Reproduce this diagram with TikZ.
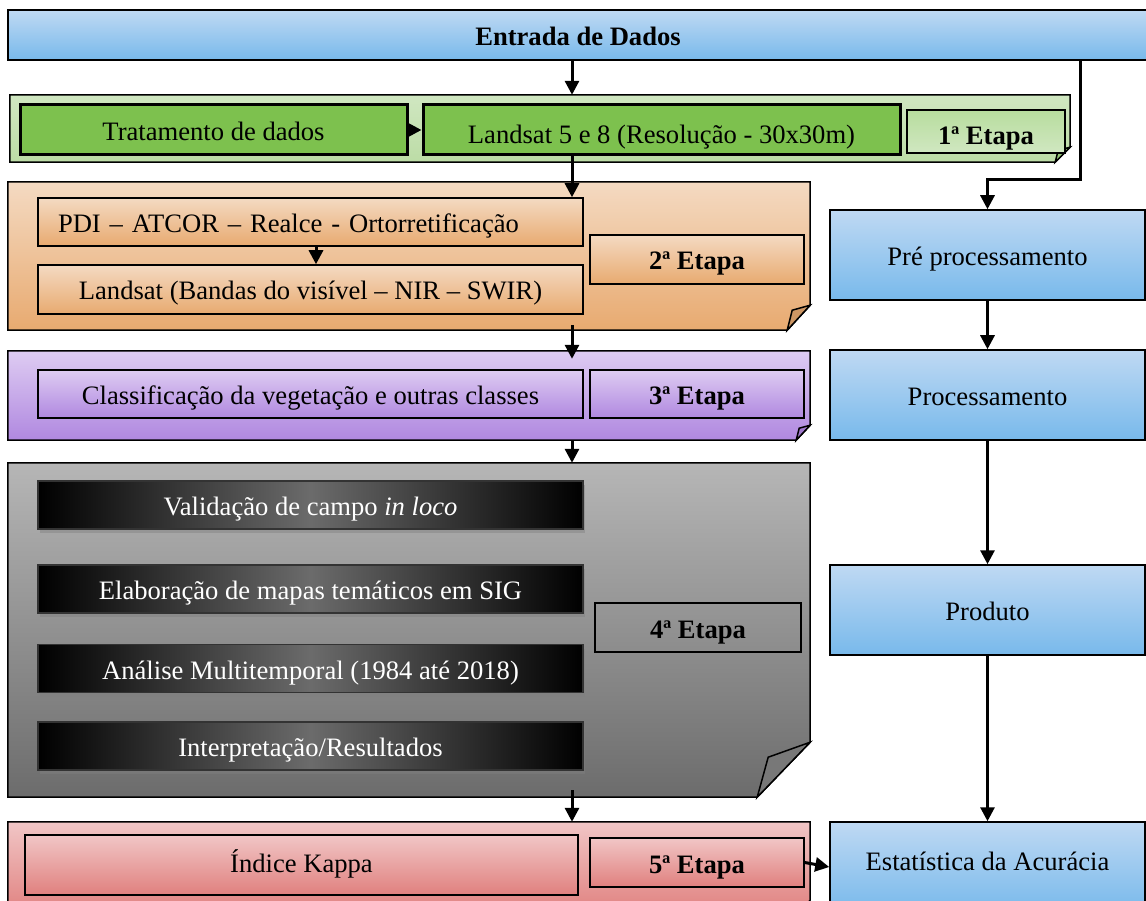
\documentclass[tikz,border=0pt]{standalone}
\usepackage{fontspec}
\setmainfont{Liberation Serif}
\usetikzlibrary{arrows.meta,shadows,calc}

\definecolor{bluTop}{RGB}{191,217,243}
\definecolor{bluBot}{RGB}{120,185,235}
\definecolor{grnTop}{RGB}{208,231,193}
\definecolor{grnBot}{RGB}{188,220,166}
\definecolor{grnBox}{RGB}{125,193,78}
\definecolor{grnFold}{RGB}{150,200,120}
\definecolor{orgTop}{RGB}{244,218,194}
\definecolor{orgBot}{RGB}{232,170,112}
\definecolor{orgFold}{RGB}{205,150,100}
\definecolor{purTop}{RGB}{222,204,242}
\definecolor{purBot}{RGB}{176,136,224}
\definecolor{purFold}{RGB}{160,120,205}
\definecolor{gryTop}{RGB}{182,182,182}
\definecolor{gryBot}{RGB}{108,108,108}
\definecolor{gryFold}{RGB}{120,120,120}
\definecolor{pnkTop}{RGB}{241,198,198}
\definecolor{pnkBot}{RGB}{224,128,126}

\begin{document}
\begin{tikzpicture}[x=1pt,y=-1pt,
  txt/.style={font=\fontsize{26.6}{30}\selectfont, text height=21pt, text depth=0pt},
  box/.style={txt, rectangle, draw=black, line width=1.5pt, inner sep=0pt, minimum height=48pt},
  bluebox/.style={box, top color=bluTop, bottom color=bluBot, minimum width=315pt, minimum height=90pt},
  greenbox/.style={box, line width=3pt, fill=grnBox, minimum height=50pt},
  darkbox/.style={box, draw=black!80, text=white, left color=black, right color=black, middle color=black!58,
    minimum width=545pt, drop shadow={opacity=0.45, shadow xshift=2pt, shadow yshift=-4pt}},
  stagebox/.style={box, font=\fontsize{26.6}{30}\selectfont\bfseries, minimum width=214pt, minimum height=49pt},
  panel/.style={rectangle, draw=none, fill=none, inner sep=0pt},
  stage/.style={draw=black, line width=1.5pt, line join=miter},
  arr/.style={line width=3pt, -{Triangle[length=14pt,width=14pt]}}]
\clip (0,0) rectangle (1146,901);

%Shape: Rectangle [Entrada de Dados]
\node[bluebox, minimum width=1140pt, minimum height=50pt, font=\fontsize{26.6}{30}\selectfont\bfseries] (entrada) at (578,35) {Entrada de Dados};

%Shape: folded panel [1st stage]
\node[panel, minimum width=1060pt, minimum height=67pt] (p1) at (540,128.5) {};
\draw[stage, top color=grnTop, bottom color=grnBot] (p1.north west) -- (p1.north east) -- ($(p1.south east)+(0,-15)$) -- ($(p1.south east)+(-15,0)$) -- (p1.south west) -- cycle;
\draw[stage, fill=grnFold] ($(p1.south east)+(0,-15)$) -- ($(p1.south east)+(-15,0)$) -- ($(p1.south east)+(-12,-12)$) -- cycle;

%Shape: folded panel [2nd stage]
\node[panel, minimum width=802pt, minimum height=148pt] (p2) at (409,256) {};
\draw[stage, top color=orgTop, bottom color=orgBot] (p2.north west) -- (p2.north east) -- ($(p2.south east)+(0,-25)$) -- ($(p2.south east)+(-23,0)$) -- (p2.south west) -- cycle;
\draw[stage, fill=orgFold] ($(p2.south east)+(0,-25)$) -- ($(p2.south east)+(-23,0)$) -- ($(p2.south east)+(-18,-20)$) -- cycle;

%Shape: folded panel [3rd stage]
\node[panel, minimum width=802pt, minimum height=89pt] (p3) at (409,395.5) {};
\draw[stage, top color=purTop, bottom color=purBot] (p3.north west) -- (p3.north east) -- ($(p3.south east)+(0,-15)$) -- ($(p3.south east)+(-14,0)$) -- (p3.south west) -- cycle;
\draw[stage, fill=purFold] ($(p3.south east)+(0,-15)$) -- ($(p3.south east)+(-14,0)$) -- ($(p3.south east)+(-11,-12)$) -- cycle;

%Shape: folded panel [4th stage]
\node[panel, minimum width=802pt, minimum height=334pt] (p4) at (409,630) {};
\draw[stage, top color=gryTop, bottom color=gryBot] (p4.north west) -- (p4.north east) -- ($(p4.south east)+(0,-55)$) -- ($(p4.south east)+(-53,0)$) -- (p4.south west) -- cycle;
\draw[stage, fill=gryFold] ($(p4.south east)+(0,-55)$) -- ($(p4.south east)+(-53,0)$) -- ($(p4.south east)+(-42,-40)$) -- cycle;

%Shape: folded panel [5th stage]
\node[panel, minimum width=802pt, minimum height=93pt] (p5) at (409,868.5) {};
\draw[stage, top color=pnkTop, bottom color=pnkBot] (p5.north west) -- (p5.north east) -- ($(p5.south east)+(0,-15)$) -- ($(p5.south east)+(-14,0)$) -- (p5.south west) -- cycle;

% Text Node
\node[greenbox, minimum width=387pt] (trat) at (213.5,130) {Tratamento de dados};
% Text Node
\node[greenbox, minimum width=477pt, text height=27pt] (lsat) at (661.5,130) {Landsat 5 e 8 (Resolução - 30x30m)};
% Text Node
\node[stagebox, top color=grnBox!55!white, bottom color=grnTop, minimum width=158pt, minimum height=43pt, text height=27pt] (et1) at (986,131.5) {1ª Etapa};

% Text Node
\node[box, top color=orgTop, bottom color=orgBot, minimum width=545pt, text width=505pt, inner xsep=20pt, align=left] (pdi) at (310.5,222) {PDI – ATCOR – Realce - Ortorretificação};
% Text Node
\node[box, top color=orgTop, bottom color=orgBot, minimum width=545pt, minimum height=49pt] (bandas) at (310.5,289.5) {Landsat (Bandas do visível – NIR – SWIR)};
% Text Node
\node[stagebox, top color=orgTop, bottom color=orgBot] (et2) at (697,259.5) {2ª Etapa};

% Text Node
\node[box, top color=purTop, bottom color=purBot, minimum width=545pt] (classe) at (310.5,394) {Classificação da vegetação e outras classes};
% Text Node
\node[stagebox, top color=purTop, bottom color=purBot, minimum height=48pt] (et3) at (697,394) {3ª Etapa};

% Text Node
\node[darkbox] (valid) at (310.5,505) {Validação de campo \textit{in loco}};
% Text Node
\node[darkbox] (mapas) at (310.5,589) {Elaboração de mapas temáticos em SIG};
% Text Node
\node[darkbox] (multi) at (310.5,668.5) {Análise Multitemporal (1984 até 2018)};
% Text Node
\node[darkbox] (interp) at (310.5,746) {Interpretação/Resultados};
% Text Node
\node[stagebox, minimum width=206pt] (et4) at (698,627.5) {4ª Etapa};

% Text Node
\node[box, top color=pnkTop, bottom color=pnkBot, minimum width=553pt, minimum height=60pt, text depth=7pt] (kappa) at (301.5,865) {Índice Kappa};
% Text Node
\node[stagebox, top color=pnkTop, bottom color=pnkBot] (et5) at (697,862.5) {5ª Etapa};

% Text Node
\node[bluebox] (pre) at (987.5,255) {Pré processamento};
% Text Node
\node[bluebox] (proc) at (987.5,395) {Processamento};
% Text Node
\node[bluebox] (prod) at (987.5,610) {Produto};
% Text Node
\node[bluebox, text depth=15pt] (estat) at (987.5,867) {Estatística da Acurácia};

%Straight Lines
\coordinate (tx) at (572,0);
\coordinate (bend) at (1080,180);
\draw[arr] (entrada.south -| tx) -- (p1.north -| tx);
\draw[arr] (trat.east) -- (lsat.west);
\draw[arr] (lsat.south -| tx) -- (pdi.north -| tx);
\draw[arr] (pdi.south -| 316,0) -- (bandas.north -| 316,0);
\draw[arr] ([yshift=5pt]p2.south -| tx) -- ([yshift=-8pt]p3.north -| tx);
\draw[arr] (p3.south -| tx) -- (p4.north -| tx);
\draw[arr] ([yshift=7pt]p4.south -| tx) -- (p5.north -| tx);
\draw[arr] (et5.east) -- (estat.west);
\draw[arr] (entrada.south -| bend) -- (bend) -| (pre.north);
\draw[arr] (pre.south) -- (proc.north);
\draw[arr] (proc.south) -- (prod.north);
\draw[arr] (prod.south) -- (estat.north);

\end{tikzpicture}
\end{document}
